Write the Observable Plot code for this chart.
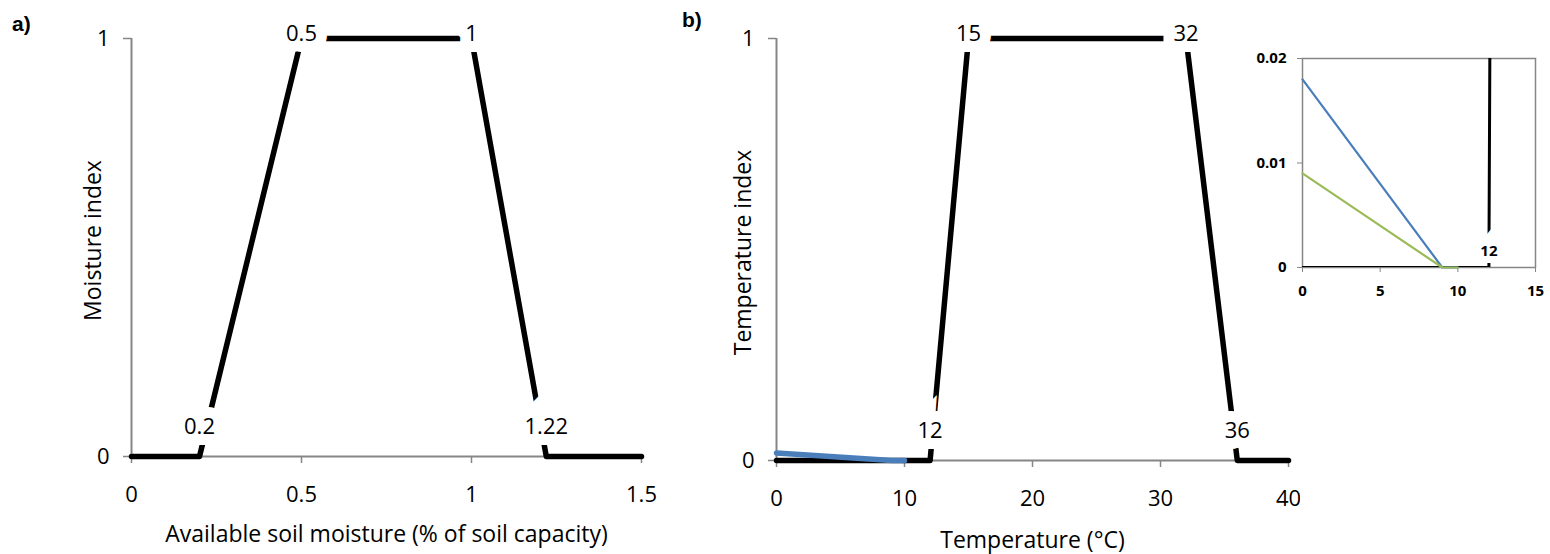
<!DOCTYPE html>
<html><head><meta charset="utf-8">
<script src="https://cdn.jsdelivr.net/npm/d3@7"></script>
<script src="https://cdn.jsdelivr.net/npm/@observablehq/plot@0.6"></script>
<style>
body{margin:0;background:#fff;}
#wrap{position:relative;width:1550px;height:554px;overflow:hidden;background:#fff;}
.panel{position:absolute;top:0;}
.tag{position:absolute;font-family:"Liberation Sans",Arial,sans-serif;font-weight:bold;font-size:21px;line-height:21px;}
</style></head><body>
<div id="wrap">
  <div class="tag" style="left:12px;top:13px;">a)</div>
  <div class="tag" style="left:682px;top:9px;">b)</div>
</div>
<script>
// ---- data ----
const moistureX = [0, 0.2, 0.5, 1, 1.22, 1.5];
const moistureIndex = [0, 0, 1, 1, 0, 0];
const moistureLabels = ["", "0.2", "0.5", "1", "1.22", ""];
const tempX = [0, 12, 15, 32, 36, 40];
const tempIndex = [0, 0, 1, 1, 0, 0];
const tempLabels = ["", "12", "15", "32", "36", ""];
const blueX = [0, 9, 10];
const blueY = [0.018, 0, 0];
const greenX = [0, 9, 10];
const greenY = [0.009, 0, 0];
const moistureTicks = [0, 0.5, 1, 1.5];
const tempTicks = [0, 10, 20, 30, 40];
const indexTicks = [0, 1];
const insetXTicks = [0, 5, 10, 15];
const insetYTicks = [0, 0.01, 0.02];
const insetLabels = ["", "12", "", "", "", ""];

const GRAY = "#868686";
const FONT = "Open Sans, sans-serif";
const FS = 22;
const TFS = 23;
const moisture = moistureX.map((x, i) => ({x, y: moistureIndex[i], t: moistureLabels[i]}));
const temp = tempX.map((x, i) => ({x, y: tempIndex[i], t: tempLabels[i]}));
const blue = blueX.map((x, i) => ({x, y: blueY[i]}));
const green = greenX.map((x, i) => ({x, y: greenY[i]}));
const insetLab = tempX.map((x, i) => ({x, y: tempIndex[i], t: insetLabels[i]}));

const wrap = document.getElementById("wrap");
function place(svg, left) {
  svg.classList.add("panel");
  svg.style.left = left + "px";
  wrap.appendChild(svg);
}

const halo = {stroke: "white", strokeWidth: 22, strokeLinejoin: "miter", strokeMiterlimit: 10};

function mainPanel({data, ticks, domain, width, height, mL, mR, mT, mB, xTitle, yTitle, yTitleDx, yTitleDy, xTitleDy, extra}) {
  return Plot.plot({
    width, height, marginLeft: mL, marginRight: mR, marginTop: mT, marginBottom: mB,
    style: {fontFamily: FONT, fontSize: FS + "px", color: "black", background: "transparent"},
    x: {domain, ticks},
    y: {domain: [0, 1]},
    marks: [
      Plot.ruleX([domain[0]], {stroke: GRAY, strokeWidth: 2}),
      Plot.ruleY([0], {stroke: GRAY, strokeWidth: 2}),
      Plot.axisX({ticks, tickSize: 7, tickPadding: 23, stroke: GRAY, strokeWidth: 1.5, fontSize: FS, label: null, tickFormat: d => String(d)}),
      Plot.axisY({ticks: indexTicks, tickSize: 8, tickPadding: 14, stroke: GRAY, strokeWidth: 1.5, fontSize: FS, label: null, tickFormat: d => String(d)}),
      Plot.line(data, {x: "x", y: "y", stroke: "black", strokeWidth: 5.5}),
      ...(extra || []),
      Plot.text(data.filter(d => d.t && d.y === 1), {x: "x", y: "y", text: "t", dy: -5, fontSize: FS, fill: "black", ...halo}),
      Plot.text(data.filter(d => d.t && d.y === 0), {x: "x", y: "y", text: "t", dy: -30, fontSize: FS, fill: "black", ...halo}),
      Plot.text([xTitle], {frameAnchor: "bottom", lineAnchor: "middle", textAnchor: "middle", dy: xTitleDy, fontSize: TFS, fill: "black"}),
      Plot.text([yTitle], {frameAnchor: "left", lineAnchor: "middle", textAnchor: "middle", dx: yTitleDx, dy: yTitleDy, rotate: -90, fontSize: TFS, fill: "black"})
    ]
  });
}

const a = mainPanel({
  data: moisture, ticks: moistureTicks, domain: [0, 1.5],
  width: 700, height: 554, mL: 131, mR: 59, mT: 38, mB: 98,
  xTitle: "Available soil moisture (% of soil capacity)", xTitleDy: 78,
  yTitle: "Moisture index", yTitleDx: -38, yTitleDy: -7
});
place(a, 0);

const b = mainPanel({
  data: temp, ticks: tempTicks, domain: [0, 40],
  width: 600, height: 554, mL: 76, mR: 12, mT: 38, mB: 94,
  xTitle: "Temperature (°C)", xTitleDy: 80,
  yTitle: "Temperature index", yTitleDx: -33, yTitleDy: 3,
  extra: [Plot.line(blue, {x: "x", y: "y", stroke: "#4a7ebb", strokeWidth: 5.5})]
});
place(b, 700);

const inset = Plot.plot({
  width: 310, height: 320, marginLeft: 62, marginRight: 15, marginTop: 58, marginBottom: 53,
  style: {fontFamily: FONT, fontSize: "15px", color: "black", background: "transparent"},
  x: {domain: [0, 15]},
  y: {domain: [0, 0.02]},
  marks: [
    Plot.frame({stroke: GRAY, strokeWidth: 1.5}),
    Plot.axisX({ticks: insetXTicks, tickSize: 5, tickPadding: 13, stroke: GRAY, fontSize: 15, fontWeight: "bold", label: null, tickFormat: d => String(d)}),
    Plot.axisY({ticks: insetYTicks, tickSize: 5, tickPadding: 11, stroke: GRAY, fontSize: 15, fontWeight: "bold", label: null, tickFormat: d => d === 0 ? "0" : d.toFixed(2)}),
    Plot.line(temp, {x: "x", y: "y", stroke: "black", strokeWidth: 3, clip: true}),
    Plot.line(blue, {x: "x", y: "y", stroke: "#4a7ebb", strokeWidth: 2.2}),
    Plot.line(green, {x: "x", y: "y", stroke: "#9bbb59", strokeWidth: 2.2}),
    Plot.text(insetLab.filter(d => d.t), {x: "x", y: "y", text: "t", dy: -16, fontSize: 15, fontWeight: "bold", fill: "black", stroke: "white", strokeWidth: 14, strokeLinejoin: "miter", strokeMiterlimit: 10})
  ]
});
place(inset, 1240);
</script>
</body></html>
